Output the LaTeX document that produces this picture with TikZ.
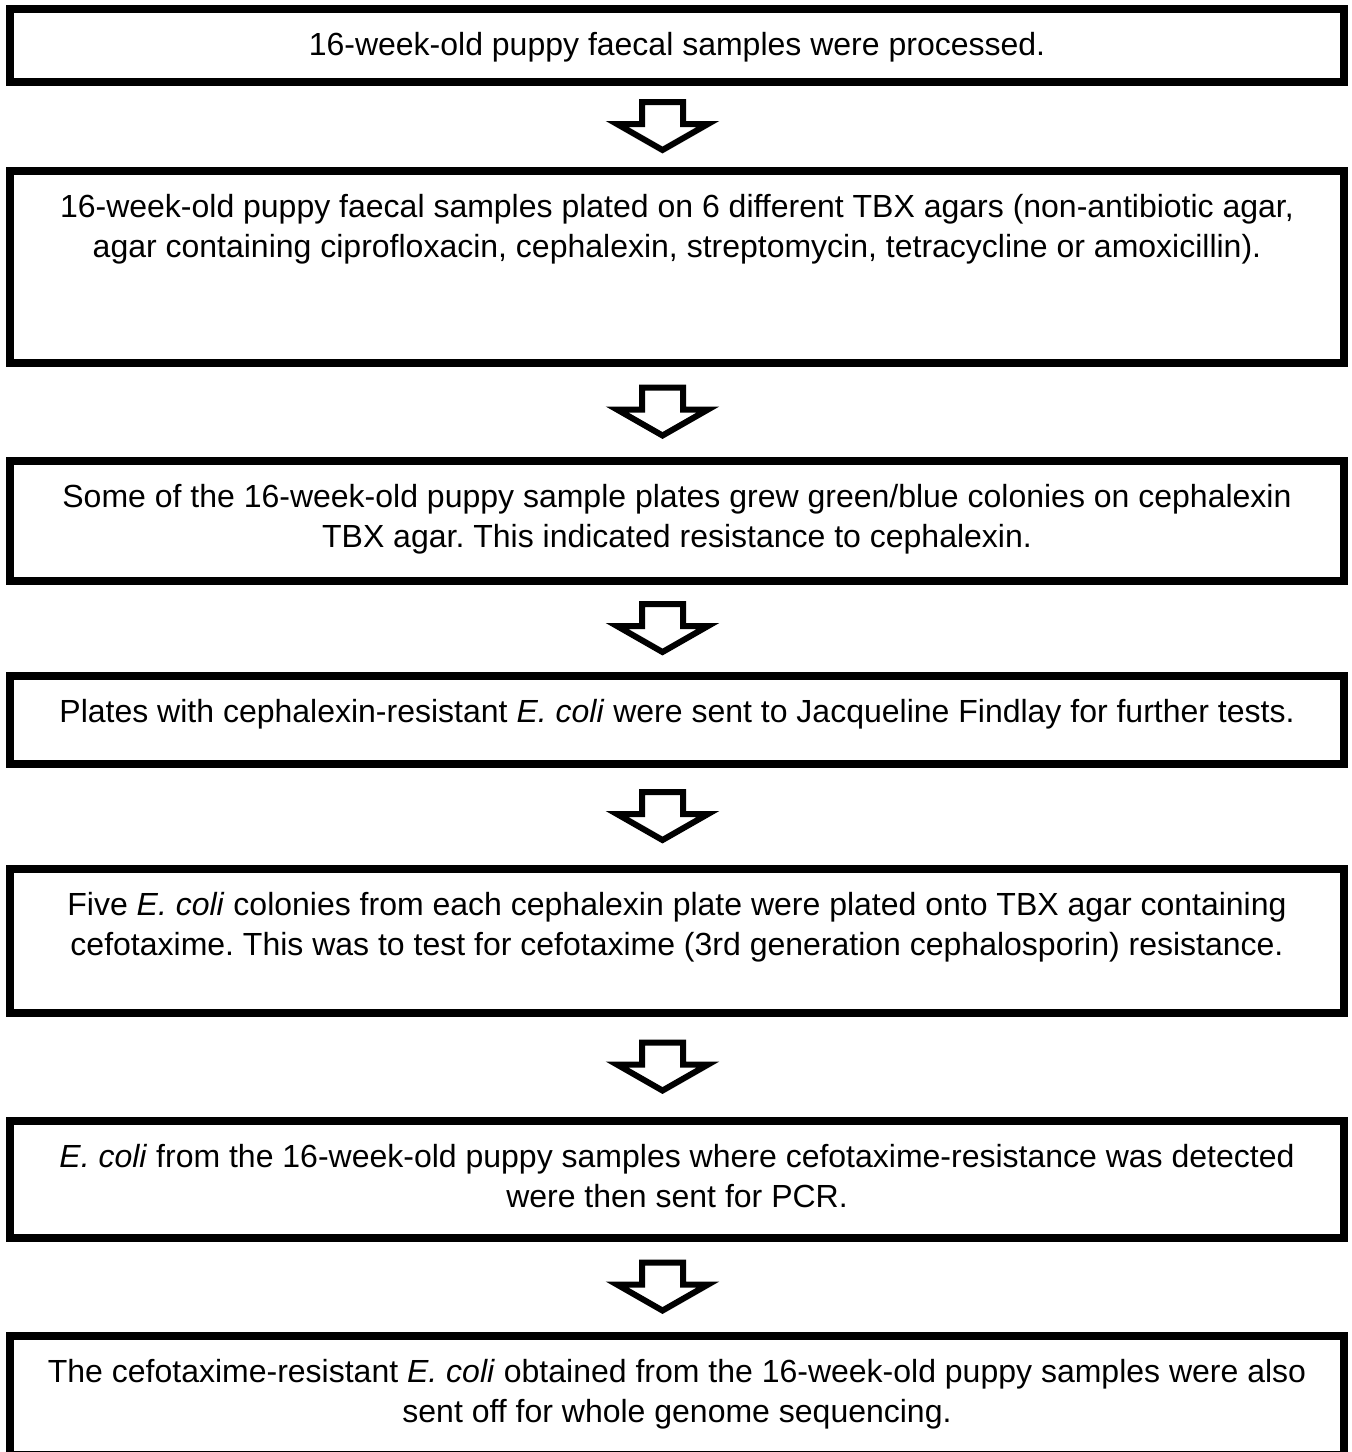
\documentclass[tikz,border=0pt]{standalone}
\usepackage{fontspec}
\setmainfont{Liberation Sans}
\usetikzlibrary{positioning, calc}
\frenchspacing

\begin{document}
\begin{tikzpicture}[
  x=0.5bp, y=-0.5bp,
  stepbox/.style={rectangle, draw, line width=4bp, minimum width=667bp, inner sep=0pt},
  steptext/.style={align=center, inner sep=0pt, anchor=north, font=\fontsize{16bp}{20bp}\selectfont},
  downarrow/.pic={\draw[line width=3bp, line join=miter] (-20.5,-24.5) -- (-20.5,-2.5) -- (-45.5,-2.5) -- (0,23.5) -- (45.5,-2.5) -- (20.5,-2.5) -- (20.5,-24.5) -- cycle;}
]
  \useasboundingbox (0,0) rectangle (1352,1452);

  \node[stepbox, minimum height=36.5bp] (b1) at (677,45.5) {};
  \node[stepbox, minimum height=96bp, below=40.5bp of b1] (b2) {};
  \node[stepbox, minimum height=60bp, below=45bp of b2] (b3) {};
  \node[stepbox, minimum height=44bp, below=43.5bp of b3] (b4) {};
  \node[stepbox, minimum height=72bp, below=48.5bp of b4] (b5) {};
  \node[stepbox, minimum height=58.5bp, below=50bp of b5] (b6) {};
  \node[stepbox, minimum height=59.5bp, below=45bp of b6] (b7) {};

  \node[steptext] (t1) at ([yshift=-13.5bp]b1.north) {16-week-old puppy faecal samples were processed.};
  \node[steptext] (t2) at ([yshift=-13.5bp]b2.north) {16-week-old puppy faecal samples plated on 6 different TBX agars (non-antibiotic agar,\\ agar containing ciprofloxacin, cephalexin, streptomycin, tetracycline or amoxicillin).};
  \node[steptext] (t3) at ([yshift=-13.5bp]b3.north) {Some of the 16-week-old puppy sample plates grew green/blue colonies on cephalexin\\ TBX agar. This indicated resistance to cephalexin.};
  \node[steptext] (t4) at ([yshift=-13.5bp]b4.north) {Plates with cephalexin-resistant \textit{E. coli} were sent to Jacqueline Findlay for further tests.};
  \node[steptext] (t5) at ([yshift=-13.5bp]b5.north) {Five \textit{E. coli} colonies from each cephalexin plate were plated onto TBX agar containing\\ cefotaxime. This was to test for cefotaxime (3rd generation cephalosporin) resistance.};
  \node[steptext] (t6) at ([yshift=-13.5bp]b6.north) {\textit{E. coli} from the 16-week-old puppy samples where cefotaxime-resistance was detected\\ were then sent for PCR.};
  \node[steptext] (t7) at ([yshift=-13.5bp]b7.north) {The cefotaxime-resistant \textit{E. coli} obtained from the 16-week-old puppy samples were also\\ sent off for whole genome sequencing.};

  % block arrows between the steps
  \pic at ($(b1.south)!0.5!(b2.north)+(-14.5,0)$) {downarrow};
  \pic at ($(b2.south)!0.5!(b3.north)+(-14.5,0)$) {downarrow};
  \pic at ($(b3.south)!0.5!(b4.north)+(-14.5,0)$) {downarrow};
  \pic at ($(b4.south)!0.5!(b5.north)+(-14.5,0)$) {downarrow};
  \pic at ($(b5.south)!0.5!(b6.north)+(-14.5,0)$) {downarrow};
  \pic at ($(b6.south)!0.5!(b7.north)+(-14.5,0)$) {downarrow};
\end{tikzpicture}
\end{document}
